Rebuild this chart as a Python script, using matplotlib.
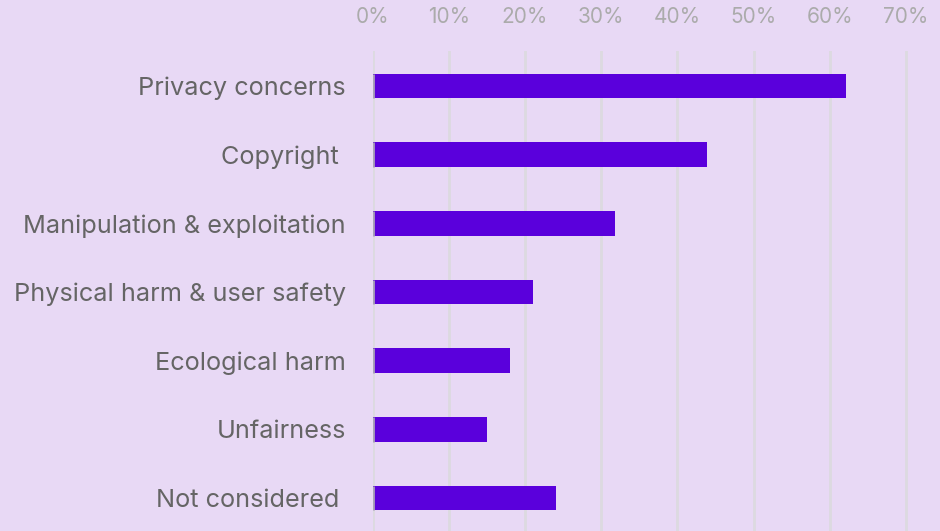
import matplotlib
matplotlib.use("Agg")
import matplotlib.pyplot as plt
from matplotlib.ticker import FuncFormatter

categories = ["Privacy concerns", "Copyright ", "Manipulation & exploitation",
              "Physical harm & user safety", "Ecological harm", "Unfairness",
              "Not considered "]
values = [62.1, 43.9, 31.8, 21.1, 18.0, 15.0, 24.1]
ticks = [0, 10, 20, 30, 40, 50, 60, 70]

BG = "#E8D9F5"
BAR = "#5A00DC"

plt.rcParams['font.family'] = ['Inter', 'DejaVu Sans']

fig = plt.figure(figsize=(9.4, 5.31), dpi=100, facecolor=BG)
W, H = 940, 531
x0, x70 = 372.5, 906
xmax = (940 - x0) / (x70 - x0) * 70
ax = fig.add_axes([x0 / W, 0, 1 - x0 / W, (531 - 51) / H])
ax.set_facecolor(BG)

n = len(categories)
pos = list(range(n))
bh = 0.356
ax.barh(pos, values, height=bh, color=BAR, zorder=3)
ax.vlines([0] * n, [p - bh / 2 for p in pos], [p + bh / 2 for p in pos],
          color="#A8A0B8", linewidth=2, zorder=4)

ax.set_xlim(0, xmax)
ax.set_ylim(n - 1 + 0.48, -0.51)
ax.set_xticks(ticks)
ax.xaxis.set_major_formatter(FuncFormatter(lambda v, p: f"{int(v)}%"))
ax.xaxis.tick_top()
ax.tick_params(axis='x', length=0, pad=17, labelsize=15, labelcolor="#ABABAB")
ax.set_yticks(pos)
ax.set_yticklabels(categories)
ax.tick_params(axis='y', length=0, pad=19, labelsize=18.2, labelcolor="#656565")
ax.grid(axis='x', color="#DCDAE0", linewidth=2, zorder=0)
ax.grid(axis='y', visible=False)
for s in ax.spines.values():
    s.set_visible(False)

fig.savefig("out.png", dpi=100, facecolor=BG)
